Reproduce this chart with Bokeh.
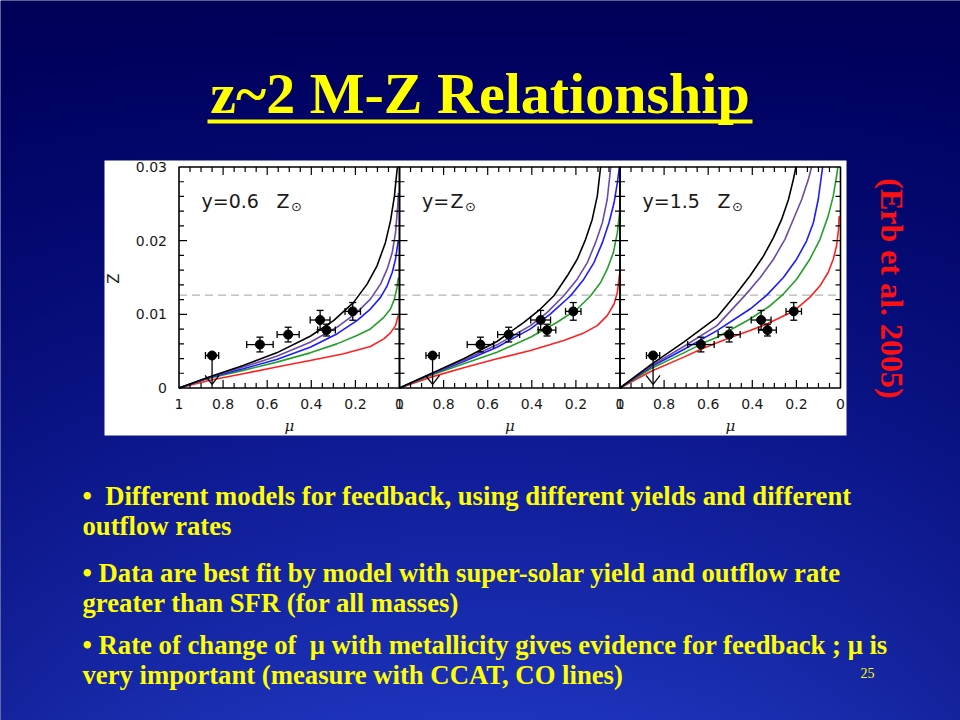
import numpy as np
from bokeh.plotting import figure
from bokeh.models import Range1d
from bokeh.core.properties import value
from bokeh.embed import file_html
from bokeh.resources import INLINE

# ---------------- slide texts ----------------
TITLE = "z~2 M-Z Relationship"
CITATION = "(Erb et al. 2005)"
BULLETS = [
    "\u2022\u00a0 Different models for feedback, using different yields and different",
    "outflow rates",
    "\u2022 Data are best fit by model with super-solar yield and outflow rate",
    "greater than SFR (for all masses)",
    "\u2022 Rate of change of \u00a0\u03bc with metallicity gives evidence for feedback ; \u03bc is",
    "very important (measure with CCAT, CO lines)",
]
PAGE_NUMBER = "25"

# ---------------- chart axes ----------------
YIELD_LABELS = ["y=0.6", "y=", "y=1.5"]
MU_TICK_POS = [1.0, 0.8, 0.6, 0.4, 0.2, 0.0]
MU_TICK_LABELS = ["1", "0.8", "0.6", "0.4", "0.2", "0"]
Z_TICK_POS = [0.0, 0.01, 0.02, 0.03]
Z_TICK_LABELS = ["0", "0.01", "0.02", "0.03"]
Z_SUN = 0.0126

# ---------------- observed points (same in every panel) ----------------
OBS_MU = [0.850, 0.633, 0.505, 0.360, 0.331, 0.212]
OBS_Z = [0.00441, 0.00590, 0.00725, 0.00923, 0.00786, 0.01040]
OBS_MU_ERR = [0.030, 0.060, 0.050, 0.045, 0.040, 0.035]
OBS_Z_ERR = [0.0, 0.0010, 0.0010, 0.0013, 0.0008, 0.0012]
UPPER_LIMIT_TIP = 0.0005   # the first point is an upper limit

# ---------------- model curves, panel 1 (y = 0.6 Zsun) ----------------
P1_RED_MU = [1.0, 0.86, 0.709, 0.557, 0.405, 0.253, 0.132, 0.071, 0.041, 0.018, 0.006]
P1_RED_Z = [0, 0.00104, 0.00194, 0.00284, 0.00374, 0.00464, 0.00563, 0.00667, 0.00748, 0.00847, 0.00982]
P1_GREEN_MU = [1.0, 0.86, 0.709, 0.557, 0.405, 0.284, 0.193, 0.132, 0.071, 0.041, 0.023, 0.011, 0.005]
P1_GREEN_Z = [0, 0.00135, 0.00239, 0.00351, 0.00477, 0.00599, 0.00712, 0.00802, 0.00959, 0.01072, 0.01207, 0.01365, 0.0150]
P1_BLUE_MU = [1.0, 0.86, 0.709, 0.557, 0.405, 0.284, 0.193, 0.132, 0.086, 0.056, 0.033, 0.018, 0.006]
P1_BLUE_Z = [0, 0.00144, 0.00261, 0.00387, 0.00554, 0.00734, 0.00914, 0.01072, 0.0123, 0.01387, 0.01568, 0.01748, 0.01995]
P1_PURPLE_MU = [1.0, 0.86, 0.709, 0.557, 0.405, 0.284, 0.193, 0.132, 0.086, 0.056, 0.033, 0.018, 0.008, 0.005]
P1_PURPLE_Z = [0, 0.00149, 0.00284, 0.00432, 0.00622, 0.00824, 0.01027, 0.01207, 0.0141, 0.01613, 0.01838, 0.02108, 0.02468, 0.02649]
P1_BLACK_MU = [1.0, 0.86, 0.709, 0.557, 0.405, 0.299, 0.208, 0.147, 0.102, 0.064, 0.041, 0.023, 0.011, 0.008]
P1_BLACK_Z = [0, 0.00153, 0.00306, 0.00477, 0.00703, 0.00914, 0.01162, 0.0141, 0.01658, 0.01973, 0.02266, 0.02604, 0.02964, 0.0300]

# ---------------- model curves, panel 2 (y = Zsun) ----------------
P2_RED_MU = [1.0, 0.861, 0.709, 0.558, 0.406, 0.255, 0.164, 0.103, 0.058, 0.027, 0.012, 0.002]
P2_RED_Z = [0, 0.00144, 0.00275, 0.00396, 0.00509, 0.00644, 0.00748, 0.00847, 0.00982, 0.0114, 0.01297, 0.01545]
P2_GREEN_MU = [1.0, 0.861, 0.709, 0.558, 0.406, 0.285, 0.194, 0.133, 0.088, 0.058, 0.030, 0.012, 0.002]
P2_GREEN_Z = [0, 0.00171, 0.00329, 0.00486, 0.00689, 0.00892, 0.01072, 0.01252, 0.01432, 0.01613, 0.01838, 0.02108, 0.02378]
P2_BLUE_MU = [1.0, 0.861, 0.709, 0.558, 0.406, 0.315, 0.224, 0.164, 0.118, 0.080, 0.050, 0.027, 0.012, 0.003]
P2_BLUE_Z = [0, 0.0018, 0.0036, 0.00554, 0.00802, 0.01005, 0.01252, 0.01477, 0.01703, 0.01973, 0.02243, 0.02514, 0.02784, 0.0300]
P2_PURPLE_MU = [1.0, 0.861, 0.709, 0.558, 0.406, 0.330, 0.255, 0.194, 0.148, 0.111, 0.080, 0.058, 0.042]
P2_PURPLE_Z = [0, 0.00185, 0.00378, 0.00586, 0.00847, 0.01027, 0.01252, 0.01477, 0.01703, 0.01973, 0.02243, 0.02559, 0.0300]
P2_BLACK_MU = [1.0, 0.861, 0.709, 0.558, 0.436, 0.361, 0.300, 0.239, 0.194, 0.156, 0.126, 0.103, 0.088]
P2_BLACK_Z = [0, 0.00189, 0.00396, 0.00631, 0.00892, 0.01072, 0.01252, 0.01523, 0.01748, 0.02018, 0.02288, 0.02604, 0.0300]

# ---------------- model curves, panel 3 (y = 1.5 Zsun) ----------------
P3_RED_MU = [1.0, 0.861, 0.711, 0.628, 0.560, 0.508, 0.410, 0.334, 0.214, 0.139, 0.093, 0.056, 0.033, 0.018, 0.009, 0.006]
P3_RED_Z = [0, 0.00225, 0.00419, 0.00532, 0.00613, 0.00676, 0.00779, 0.00869, 0.01041, 0.0123, 0.01387, 0.01568, 0.01748, 0.01928, 0.02153, 0.02333]
P3_GREEN_MU = [1.0, 0.861, 0.711, 0.620, 0.560, 0.410, 0.319, 0.259, 0.199, 0.139, 0.093, 0.056, 0.033, 0.018, 0.012]
P3_GREEN_Z = [0, 0.00261, 0.00477, 0.00613, 0.00689, 0.00937, 0.01117, 0.01275, 0.01477, 0.01748, 0.02018, 0.02333, 0.02604, 0.02874, 0.0300]
P3_BLUE_MU = [1.0, 0.861, 0.711, 0.560, 0.410, 0.334, 0.259, 0.199, 0.154, 0.123, 0.101, 0.081]
P3_BLUE_Z = [0, 0.00284, 0.00523, 0.00779, 0.01072, 0.01261, 0.0150, 0.01748, 0.01995, 0.02243, 0.02559, 0.0300]
P3_PURPLE_MU = [1.0, 0.861, 0.711, 0.560, 0.432, 0.364, 0.304, 0.252, 0.214, 0.176, 0.146, 0.131]
P3_PURPLE_Z = [0, 0.00297, 0.00563, 0.00847, 0.01261, 0.0150, 0.01748, 0.02018, 0.02288, 0.02559, 0.02829, 0.0300]
P3_BLACK_MU = [1.0, 0.861, 0.711, 0.560, 0.477, 0.410, 0.349, 0.304, 0.267, 0.236, 0.214, 0.202]
P3_BLACK_Z = [0, 0.00315, 0.00622, 0.00959, 0.01261, 0.01523, 0.01793, 0.02041, 0.02288, 0.02559, 0.02829, 0.0300]

CURVE_COLORS = ["#ff2020", "#22a02a", "#1c1cff", "#6a4ca6", "#000000"]
PANELS = [
    [(P1_RED_MU, P1_RED_Z), (P1_GREEN_MU, P1_GREEN_Z), (P1_BLUE_MU, P1_BLUE_Z), (P1_PURPLE_MU, P1_PURPLE_Z), (P1_BLACK_MU, P1_BLACK_Z)],
    [(P2_RED_MU, P2_RED_Z), (P2_GREEN_MU, P2_GREEN_Z), (P2_BLUE_MU, P2_BLUE_Z), (P2_PURPLE_MU, P2_PURPLE_Z), (P2_BLACK_MU, P2_BLACK_Z)],
    [(P3_RED_MU, P3_RED_Z), (P3_GREEN_MU, P3_GREEN_Z), (P3_BLUE_MU, P3_BLUE_Z), (P3_PURPLE_MU, P3_PURPLE_Z), (P3_BLACK_MU, P3_BLACK_Z)],
]

# ---------------- layout constants (slide pixels) ----------------
SW, SH = 960, 720
PANEL_LEFT = [178.5, 399.0, 619.5]
PANEL_W = 220.5
Z0_Y, ZTOP_Y = 387.5, 166.5          # slide y of Z=0 and Z=0.03
PX_Z = 0.03 / (Z0_Y - ZTOP_Y)         # Z units per pixel
PX_MU = 1.0 / PANEL_W                 # mu units per pixel

YELLOW = "#ffff00"
INK = "#1a1a1a"

p = figure(width=SW, height=SH, x_range=Range1d(0, SW), y_range=Range1d(0, SH),
           output_backend="svg", toolbar_location=None, x_axis_type=None, y_axis_type=None,
           min_border=0)
p.outline_line_color = None
p.background_fill_color = "#000058"
p.border_fill_color = "#000058"
p.xgrid.visible = False
p.ygrid.visible = False


def sy(y):
    return SH - y


# ---------------- background gradient ----------------
ny, nx = 180, 240
fy = np.linspace(0, 1, ny)[:, None]
t = 1 - fy
xx = np.linspace(-1, 1, nx)[None, :]
vig = 1 - 0.3 * xx ** 2
img = np.empty((ny, nx), dtype=np.uint32)
view = img.view(dtype=np.uint8).reshape((ny, nx, 4))
view[:, :, 0] = np.clip(30 * t ** 1.4 * vig, 0, 255).astype(np.uint8)
view[:, :, 1] = np.clip(52 * t ** 1.3 * vig, 0, 255).astype(np.uint8)
view[:, :, 2] = np.clip(88 + 100 * t * vig, 0, 255).astype(np.uint8)
view[:, :, 3] = 255
p.image_rgba(image=[img], x=0, y=0, dw=SW, dh=SH)


def txt(x, y, s, size, color, font="Liberation Serif", style="bold", align="left",
        baseline="middle", angle=0.0, **kw):
    p.text(x=[x], y=[y], text=[s], text_font=value(font), text_font_size=f"{size}px",
           text_font_style=style, text_color=color, text_align=align,
           text_baseline=baseline, angle=angle, **kw)


# ---------------- title ----------------
txt(479.5, sy(93), TITLE, 58, YELLOW, align="center")
p.quad(left=[207], right=[752], bottom=[sy(123)], top=[sy(119)], fill_color=YELLOW, line_color=None)

# ---------------- white figure area ----------------
p.quad(left=[104], right=[846], bottom=[sy(435)], top=[sy(160)], fill_color="white", line_color=None)

# ranges: one shared Z range and one mu range per panel
p.extra_y_ranges["z"] = Range1d(start=(0 - sy(Z0_Y)) * PX_Z, end=(SH - sy(Z0_Y)) * PX_Z)
for k, L in enumerate(PANEL_LEFT):
    R = L + PANEL_W
    p.extra_x_ranges[f"p{k}"] = Range1d(start=R / PANEL_W, end=(R - SW) / PANEL_W)

mu_minor = [m for m in np.round(np.arange(0.05, 1.0, 0.05), 2) if round(m * 100) % 20 != 0]
mu_major = [0.8, 0.6, 0.4, 0.2]
z_minor = [z for z in np.round(np.arange(0.002, 0.03, 0.002), 3) if round(z * 1000) % 10 != 0]
z_major = [0.01, 0.02]

for k in range(3):
    xr = f"p{k}"
    kw = dict(x_range_name=xr, y_range_name="z")
    # solar metallicity line
    p.line([1.0, 0.0], [Z_SUN, Z_SUN], line_color="#b4b4b4", line_width=1.3, line_dash="8 5", **kw)
    # model curves
    for (mu, zz), col in zip(PANELS[k], CURVE_COLORS):
        p.line(mu, zz, line_color=col, line_width=1.6, **kw)
    # observations
    mu_o = OBS_MU
    x_lo = [m - e for m, e in zip(mu_o, OBS_MU_ERR)]
    x_hi = [m + e for m, e in zip(mu_o, OBS_MU_ERR)]
    p.segment(x0=x_lo, x1=x_hi, y0=OBS_Z, y1=OBS_Z, line_color="black", line_width=1.3, **kw)
    p.scatter(x=x_lo + x_hi, y=OBS_Z + OBS_Z, marker="dash", size=7, angle=np.pi / 2,
              line_color="black", line_width=1.3, **kw)
    mu_e = [m for m, e in zip(mu_o, OBS_Z_ERR) if e > 0]
    z_e = [z for z, e in zip(OBS_Z, OBS_Z_ERR) if e > 0]
    e_e = [e for e in OBS_Z_ERR if e > 0]
    z_lo = [z - e for z, e in zip(z_e, e_e)]
    z_hi = [z + e for z, e in zip(z_e, e_e)]
    p.segment(x0=mu_e, x1=mu_e, y0=z_lo, y1=z_hi, line_color="black", line_width=1.3, **kw)
    p.scatter(x=mu_e + mu_e, y=z_lo + z_hi, marker="dash", size=7,
              line_color="black", line_width=1.3, **kw)
    # upper limit arrow
    p.segment(x0=[OBS_MU[0]], x1=[OBS_MU[0]], y0=[OBS_Z[0]], y1=[UPPER_LIMIT_TIP],
              line_color="black", line_width=1.3, **kw)
    p.segment(x0=[OBS_MU[0] - 7 * PX_MU, OBS_MU[0] + 7 * PX_MU], x1=[OBS_MU[0], OBS_MU[0]],
              y0=[UPPER_LIMIT_TIP + 9 * PX_Z] * 2, y1=[UPPER_LIMIT_TIP] * 2,
              line_color="black", line_width=1.3, **kw)
    p.scatter(x=mu_o, y=OBS_Z, marker="circle", size=9, fill_color="black", line_color="black", **kw)

    # ticks (inward)
    tk = dict(length_units="screen", line_color="black", line_width=1.2, **kw)
    p.ray(x=mu_minor, y=[0] * len(mu_minor), length=5, angle=np.pi / 2, **tk)
    p.ray(x=mu_major, y=[0] * len(mu_major), length=8, angle=np.pi / 2, **tk)
    p.ray(x=mu_minor, y=[0.03] * len(mu_minor), length=5, angle=-np.pi / 2, **tk)
    p.ray(x=mu_major, y=[0.03] * len(mu_major), length=8, angle=-np.pi / 2, **tk)
    p.ray(x=[1.0] * len(z_minor), y=z_minor, length=5, angle=0, **tk)
    p.ray(x=[1.0] * len(z_major), y=z_major, length=8, angle=0, **tk)
    p.ray(x=[0.0] * len(z_minor), y=z_minor, length=5, angle=np.pi, **tk)
    p.ray(x=[0.0] * len(z_major), y=z_major, length=8, angle=np.pi, **tk)
    # frame
    p.quad(left=[1.0], right=[0.0], bottom=[0.0], top=[0.03], fill_color=None,
           line_color="black", line_width=1.6, **kw)

    # x tick labels
    p.text(x=MU_TICK_POS, y=[-16 * PX_Z] * len(MU_TICK_POS), text=MU_TICK_LABELS,
           text_font=value("DejaVu Sans"), text_font_size="14px", text_color=INK,
           text_align="center", text_baseline="middle", **kw)
    # x axis title
    txt(0.5, -38 * PX_Z, "\u03bc", 15, INK, font="DejaVu Serif", style="italic",
        align="center", **kw)
    # yield annotation
    txt(1 - 22.5 * PX_MU, (Z0_Y - 200) * PX_Z, YIELD_LABELS[k], 19, INK, font="DejaVu Sans",
        style="normal", **kw)
    zoff = 51 if k == 1 else 97.5
    txt(1 - zoff * PX_MU, (Z0_Y - 200) * PX_Z, "Z", 19, INK, font="DejaVu Sans", style="normal", **kw)
    txt(1 - (zoff + 14.5) * PX_MU, (Z0_Y - 206) * PX_Z, "\u2299", 13, INK, font="DejaVu Sans",
        style="normal", **kw)

# y tick labels and title (left panel only)
p.text(x=[1 + 12 * PX_MU] * len(Z_TICK_POS), y=Z_TICK_POS, text=Z_TICK_LABELS,
       text_font=value("DejaVu Sans"), text_font_size="14px", text_color=INK,
       text_align="right", text_baseline="middle", x_range_name="p0", y_range_name="z")
txt(1 + 65 * PX_MU, (Z0_Y - 278) * PX_Z, "Z", 15, INK, font="DejaVu Sans", style="normal",
    align="center", angle=np.pi / 2, x_range_name="p0", y_range_name="z")

# ---------------- citation ----------------
txt(891, sy(288), CITATION, 32, "#ff1010", align="center", angle=-np.pi / 2)

# ---------------- bullets ----------------
BULLET_CENTERS = [495, 525, 572, 602, 644, 674]
for s, c in zip(BULLETS, BULLET_CENTERS):
    txt(82, sy(c), s, 26.7, YELLOW)
txt(860, sy(672), PAGE_NUMBER, 14, YELLOW, style="normal")

open("out.html", "w").write(file_html(p, INLINE))
